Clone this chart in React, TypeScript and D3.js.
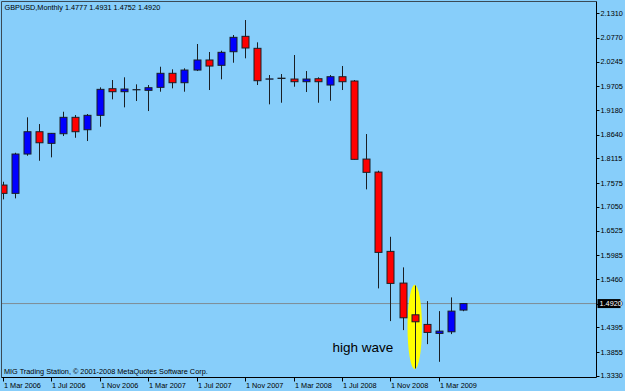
import React from "react";
import * as d3 from "d3";

// Monthly GBPUSD bars, Mar 2006 .. May 2009
const opens = [1.7529, 1.7346, 1.8212, 1.8703, 1.8447, 1.8659, 1.9020, 1.8747, 1.9064, 1.9650, 1.9584, 1.9625, 1.9614, 1.9680, 1.9989, 1.9782, 2.0061, 2.0282, 2.0165, 2.0464, 2.0803, 2.0539, 1.9860, 1.9875, 1.9863, 1.9804, 1.9870, 1.9731, 1.9914, 1.9819, 1.8101, 1.7815, 1.6069, 1.5371, 1.4673, 1.4461, 1.4263, 1.4299, 1.4777];
const highs = [1.7602, 1.8240, 1.9020, 1.8872, 1.8675, 1.9143, 1.9070, 1.9093, 1.9680, 1.9841, 1.9901, 1.9746, 1.9731, 2.0134, 2.0077, 2.0099, 2.0634, 2.0458, 2.0486, 2.0832, 2.1162, 2.0671, 1.9951, 1.9973, 2.0392, 2.0039, 1.9901, 1.9951, 2.0150, 1.9841, 1.8652, 1.7844, 1.6390, 1.5717, 1.5316, 1.4974, 1.4754, 1.5056, 1.4931];
const lows = [1.7214, 1.7236, 1.8174, 1.8064, 1.8139, 1.8608, 1.8570, 1.8498, 1.8813, 1.9416, 1.9240, 1.9379, 1.9158, 1.9584, 1.9658, 1.9584, 2.0039, 1.9621, 1.9857, 2.0222, 2.0319, 1.9731, 1.9306, 1.9341, 1.9694, 1.9577, 1.9341, 1.9385, 1.9621, 1.8090, 1.7434, 1.5254, 1.4534, 1.4336, 1.3492, 1.4027, 1.3638, 1.4248, 1.4752];
const closes = [1.7346, 1.8212, 1.8703, 1.8460, 1.8667, 1.9020, 1.8703, 1.9064, 1.9636, 1.9584, 1.9643, 1.9630, 1.9672, 1.9989, 1.9782, 2.0061, 2.0282, 2.0149, 2.0451, 2.0781, 2.0546, 1.9826, 1.9866, 1.9882, 1.9804, 1.9863, 1.9804, 1.9914, 1.9804, 1.8095, 1.7809, 1.6047, 1.5364, 1.4607, 1.4519, 1.4285, 1.4314, 1.4754, 1.4920];

const priceTicks = [2.1310, 2.0770, 2.0245, 1.9705, 1.9180, 1.8640, 1.8115, 1.7575, 1.7050, 1.6525, 1.5985, 1.5460, 1.4920, 1.4395, 1.3855, 1.3330];
const timeTickIndex = [0, 4, 8, 12, 16, 20, 24, 28, 32, 36];
const timeTickLabels = ["1 Mar 2006", "1 Jul 2006", "1 Nov 2006", "1 Mar 2007", "1 Jul 2007", "1 Nov 2007", "1 Mar 2008", "1 Jul 2008", "1 Nov 2008", "1 Mar 2009"];

const title = "GBPUSD,Monthly  1.4777 1.4931 1.4752 1.4920";
const copyright = "MIG Trading Station, © 2001-2008 MetaQuotes Software Corp.";
const currentPrice = 1.4920;
const highWaveIndex = 34;
const highWaveLabel = "high wave";

const W = 625;
const H = 391;
const plotL = 1.5;
const plotR = 596.5;
const plotT = 1.5;
const plotB = 377.5;

export default function App() {
  const x = d3.scaleLinear().domain([0, 38]).range([2.6, 463.2]);
  const y = d3.scaleLinear().domain([1.3330, 2.1310]).range([375.8, 13.3]);
  const bg = "#87CEFA";
  const font = "'Liberation Sans', Arial, sans-serif";
  const fs = 7.3;
  const bodyW = 7;
  const py = y(currentPrice);

  return (
    <svg width={W} height={H} style={{ position: "absolute", left: 0, top: 0, display: "block" }}>
      <defs>
        <clipPath id="plotClip">
          <rect x={plotL} y={plotT} width={plotR - plotL} height={plotB - plotT} />
        </clipPath>
      </defs>
      <rect x={0} y={0} width={W} height={H} fill={bg} />

      <text x={4.5} y={10} fontFamily={font} fontSize={fs} fill="#000">{title}</text>

      <g clipPath="url(#plotClip)">
        <line x1={plotL} x2={plotR} y1={py} y2={py} stroke="#7f8c94" strokeWidth={1} />
        <ellipse cx={x(highWaveIndex)} cy={(y(highs[highWaveIndex]) + y(lows[highWaveIndex])) / 2}
          rx={7.2} ry={(y(lows[highWaveIndex]) - y(highs[highWaveIndex])) / 2 + 0.8} fill="#FFFF00" />
        {opens.map((o, i) => {
          const c = closes[i];
          const cx = Math.round(x(i)) + 0.5;
          const top = y(Math.max(o, c));
          const bot = y(Math.min(o, c));
          const up = c >= o;
          return (
            <g key={i}>
              <line x1={cx} x2={cx} y1={y(highs[i])} y2={y(lows[i])} stroke="#1a1f24" strokeWidth={1} />
              <rect x={cx - bodyW / 2} y={top} width={bodyW} height={Math.max(0.01, bot - top)}
                fill={up ? "#0000FF" : "#FF0000"} stroke="#1a1f24" strokeWidth={1} />
            </g>
          );
        })}
      </g>

      <text x={332.5} y={352} fontFamily={font} fontSize={13.5} fill="#000">{highWaveLabel}</text>

      <text x={4} y={374} fontFamily={font} fontSize={fs} fill="#000">{copyright}</text>

      {/* frame */}
      <line x1={plotL} x2={plotR} y1={plotT} y2={plotT} stroke="#3a4a56" strokeWidth={1} />
      <line x1={plotL} x2={plotL} y1={plotT} y2={plotB} stroke="#3a4a56" strokeWidth={1} />
      <line x1={plotR} x2={plotR} y1={plotT} y2={plotB} stroke="#000" strokeWidth={1} />
      <line x1={plotL} x2={plotR} y1={plotB} y2={plotB} stroke="#000" strokeWidth={1} />

      {/* price axis */}
      {priceTicks.map((p) => (
        <g key={p}>
          <line x1={plotR} x2={plotR + 3} y1={Math.round(y(p)) + 0.5} y2={Math.round(y(p)) + 0.5} stroke="#000" />
          <text x={600.5} y={y(p)} dy="0.35em" fontFamily={font} fontSize={fs} fill="#000">{p.toFixed(4)}</text>
        </g>
      ))}
      <rect x={597.5} y={py - 4.5} width={23} height={9} fill="#000" />
      <text x={599.5} y={py} dy="0.35em" fontFamily={font} fontSize={fs} fill="#fff">{currentPrice.toFixed(4)}</text>

      {/* time axis */}
      {timeTickIndex.map((idx, k) => {
        const tx = Math.round(x(idx)) + 0.5;
        return (
          <g key={idx}>
            <line x1={tx} x2={tx} y1={plotB} y2={plotB + 4} stroke="#000" />
            <text x={tx + 0.5} y={387.5} fontFamily={font} fontSize={fs} fill="#000">{timeTickLabels[k]}</text>
          </g>
        );
      })}
    </svg>
  );
}
